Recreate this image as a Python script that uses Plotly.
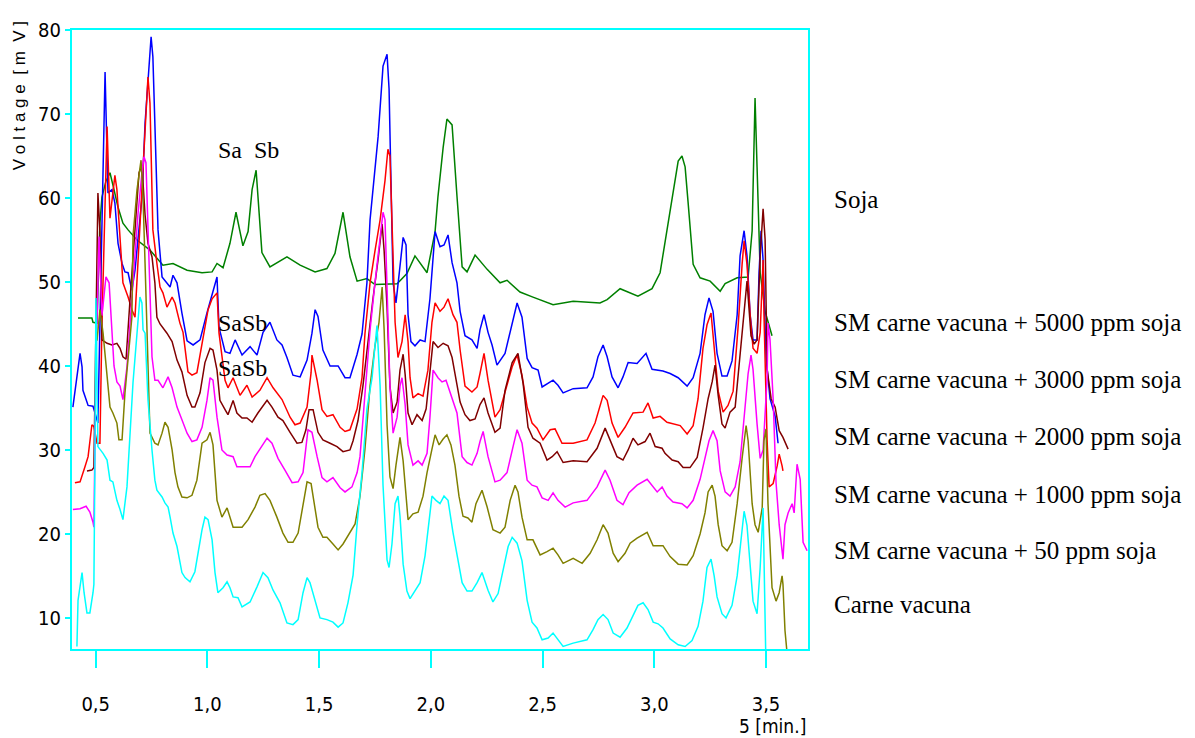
import plotly.graph_objects as go

# ---------------- data (time in min, signal in mV) ----------------
soja_t = [0.421,0.483,0.488,0.506,0.519,0.528,0.546,0.564,0.582,0.600,0.622,0.645,0.685,0.743,0.801,0.846,0.909,0.976,1.021,1.043,1.070,1.101,1.128,1.159,1.182,1.200,1.218,1.231,1.244,1.280,1.325,1.356,1.415,1.482,1.535,1.571,1.607,1.638,1.670,1.714,1.750,1.849,1.893,1.929,1.983,2.019,2.032,2.055,2.072,2.095,2.117,2.140,2.162,2.198,2.252,2.310,2.341,2.399,2.457,2.547,2.637,2.757,2.789,2.847,2.927,2.990,3.026,3.057,3.084,3.107,3.124,3.138,3.151,3.174,3.205,3.250,3.295,3.317,3.371,3.420,3.438,3.451,3.460,3.474,3.496,3.527]
soja_v = [45.7,45.7,45.2,45.1,57.0,60.1,62.0,63.0,61.0,58.9,57.0,56.2,55.0,53.8,52.0,52.2,51.4,51.1,51.2,52.2,51.7,54.6,58.3,54.3,56.0,61.0,63.3,58.0,53.5,51.8,52.5,53.0,52.0,51.2,51.6,53.4,58.3,53.0,50.1,50.4,49.7,49.8,51.0,53.1,51.1,56.0,60.2,66.0,69.4,68.7,60.2,51.8,51.2,53.2,51.5,49.9,50.2,48.8,48.2,47.3,47.7,47.5,47.9,49.2,48.3,49.2,51.1,56.1,60.6,64.4,65.0,63.7,59.6,52.1,50.5,50.1,48.9,49.8,50.5,50.6,56.1,71.9,63.7,51.1,46.5,43.6]

s5000_t = [0.398,0.416,0.430,0.439,0.443,0.466,0.488,0.510,0.524,0.542,0.555,0.573,0.586,0.600,0.618,0.631,0.645,0.662,0.676,0.707,0.721,0.730,0.748,0.756,0.770,0.779,0.797,0.819,0.833,0.846,0.864,0.886,0.909,0.936,0.967,0.998,1.025,1.043,1.052,1.079,1.101,1.124,1.155,1.191,1.222,1.249,1.280,1.311,1.334,1.356,1.383,1.415,1.446,1.468,1.482,1.495,1.517,1.549,1.585,1.616,1.638,1.670,1.692,1.714,1.728,1.741,1.764,1.786,1.804,1.813,1.822,1.831,1.844,1.862,1.876,1.889,1.898,1.911,1.929,1.952,1.974,1.996,2.019,2.041,2.059,2.077,2.095,2.117,2.131,2.153,2.184,2.207,2.220,2.238,2.256,2.274,2.296,2.332,2.368,2.386,2.408,2.431,2.453,2.480,2.498,2.525,2.547,2.569,2.592,2.637,2.699,2.726,2.748,2.771,2.789,2.811,2.838,2.860,2.883,2.923,2.963,2.990,3.039,3.071,3.107,3.147,3.174,3.205,3.227,3.245,3.263,3.281,3.303,3.326,3.348,3.371,3.384,3.402,3.415,3.429,3.442,3.460,3.469,3.478,3.487,3.500,3.518,3.541,3.554]
s5000_v = [35.1,38.7,41.5,39.9,37.1,35.3,35.2,33.2,50.0,75.0,60.6,61.0,59.4,54.6,52.2,51.2,51.1,49.0,51.4,60.0,68.9,72.0,79.2,76.8,64.2,56.2,50.6,49.9,49.4,50.8,49.9,46.3,43.0,42.5,43.1,46.3,49.0,50.6,44.6,41.7,41.5,43.1,41.3,42.3,41.3,44.0,45.2,43.1,42.5,41.0,38.9,38.7,40.7,43.9,46.7,45.9,41.9,40.0,40.0,38.6,38.6,41.4,43.8,49.9,57.4,61.2,67.3,75.7,77.1,73.0,60.2,49.9,47.5,51.8,55.3,54.4,46.1,42.9,42.4,43.1,42.9,48.0,56.0,54.2,54.4,55.6,52.3,49.9,46.5,43.6,43.1,42.1,44.3,46.1,44.0,42.5,40.1,41.5,45.5,47.5,45.8,40.9,39.8,39.5,37.5,38.0,38.3,37.7,36.8,37.3,37.4,38.7,41.1,42.5,41.1,38.7,37.4,38.7,40.4,40.3,41.5,39.6,39.4,39.1,38.6,37.6,38.6,41.5,46.1,48.1,46.5,41.5,38.8,38.8,40.6,46.1,53.1,56.1,53.1,46.1,43.1,43.1,51.1,56.1,52.6,41.1,36.1,34.0,30.8]

s3000_t = [0.407,0.430,0.452,0.466,0.483,0.492,0.506,0.519,0.528,0.551,0.564,0.586,0.595,0.609,0.622,0.645,0.662,0.676,0.698,0.712,0.725,0.734,0.743,0.756,0.774,0.788,0.801,0.819,0.842,0.855,0.877,0.891,0.913,0.931,0.953,0.980,1.003,1.021,1.043,1.052,1.079,1.092,1.115,1.146,1.177,1.200,1.235,1.267,1.294,1.334,1.370,1.392,1.415,1.446,1.464,1.468,1.491,1.513,1.535,1.562,1.594,1.616,1.638,1.670,1.692,1.705,1.728,1.750,1.773,1.795,1.808,1.817,1.831,1.840,1.853,1.871,1.885,1.898,1.907,1.920,1.943,1.965,1.987,2.005,2.019,2.041,2.059,2.077,2.099,2.117,2.131,2.153,2.184,2.207,2.220,2.238,2.256,2.287,2.310,2.341,2.364,2.386,2.408,2.431,2.453,2.475,2.502,2.534,2.556,2.587,2.637,2.699,2.735,2.771,2.789,2.811,2.838,2.869,2.905,2.950,2.972,2.995,3.026,3.057,3.084,3.116,3.147,3.174,3.196,3.218,3.236,3.254,3.272,3.286,3.308,3.330,3.353,3.375,3.393,3.402,3.415,3.429,3.442,3.460,3.474,3.487,3.491,3.505,3.514,3.532,3.550,3.559,3.572,3.576]
s3000_v = [26.1,26.2,28.0,29.2,33.0,32.8,30.8,30.8,45.0,68.5,57.6,62.7,61.0,55.4,49.9,48.2,46.7,45.8,56.2,64.2,69.6,74.4,71.3,56.2,52.2,49.4,48.7,47.0,48.2,47.5,45.1,44.0,39.3,38.9,39.2,43.1,46.7,48.0,48.7,43.9,38.3,37.4,38.6,36.5,37.7,36.3,37.1,38.6,37.4,36.0,33.9,33.0,33.2,35.1,39.2,41.3,38.3,34.8,34.0,34.2,32.7,32.2,32.4,34.9,38.6,43.8,49.9,53.7,57.4,62.1,65.8,65.0,54.2,45.2,41.0,42.9,46.1,42.9,38.6,36.2,36.7,36.4,39.5,45.2,47.5,46.5,47.0,48.0,46.1,45.2,41.9,37.6,36.9,37.5,39.1,41.5,38.3,33.9,34.8,37.9,39.9,41.3,38.9,35.1,33.2,32.6,31.2,32.4,32.5,30.8,30.8,31.2,33.2,36.5,35.9,33.2,31.5,32.7,34.4,34.5,35.6,33.8,34.0,33.3,33.1,32.9,31.9,32.9,36.1,42.1,44.9,46.3,41.1,37.0,34.5,35.3,37.0,44.6,52.1,54.9,52.1,46.1,42.1,41.5,44.0,52.6,46.1,31.1,25.6,26.0,28.1,29.5,28.1,27.5]

s2000_t = [0.461,0.483,0.492,0.501,0.510,0.519,0.528,0.551,0.573,0.595,0.609,0.622,0.636,0.654,0.676,0.694,0.707,0.721,0.734,0.752,0.765,0.774,0.788,0.819,0.842,0.864,0.886,0.909,0.931,0.944,0.967,0.989,1.012,1.025,1.043,1.056,1.079,1.092,1.115,1.132,1.155,1.177,1.200,1.226,1.267,1.289,1.316,1.338,1.370,1.401,1.423,1.441,1.455,1.473,1.495,1.517,1.549,1.580,1.607,1.638,1.652,1.674,1.696,1.719,1.741,1.764,1.782,1.791,1.804,1.817,1.831,1.849,1.862,1.876,1.885,1.898,1.916,1.938,1.961,1.979,1.996,2.010,2.032,2.055,2.077,2.095,2.108,2.131,2.153,2.175,2.198,2.220,2.238,2.256,2.287,2.310,2.332,2.364,2.390,2.413,2.435,2.457,2.489,2.520,2.543,2.565,2.592,2.637,2.699,2.744,2.780,2.802,2.833,2.860,2.883,2.905,2.927,2.959,2.981,3.004,3.035,3.048,3.080,3.107,3.129,3.160,3.192,3.218,3.241,3.259,3.272,3.286,3.303,3.317,3.339,3.362,3.384,3.402,3.415,3.433,3.447,3.460,3.474,3.487,3.496,3.505,3.523,3.541,3.559,3.576,3.599]
s2000_v = [27.5,27.6,27.9,45.0,60.6,56.0,43.1,42.7,42.5,42.7,42.1,41.1,40.8,48.0,57.0,63.0,63.9,58.0,54.6,53.0,49.9,45.8,45.0,43.9,42.9,40.7,39.3,36.5,35.1,35.1,36.8,40.4,42.1,41.9,39.5,35.9,34.8,34.2,35.9,34.4,33.8,33.8,33.3,34.4,35.9,35.1,33.9,33.5,32.1,30.8,30.9,32.4,34.8,34.8,32.1,31.2,30.8,30.4,29.8,30.0,31.1,33.5,37.6,43.3,48.0,52.7,56.9,53.7,47.0,37.6,34.4,35.7,39.5,41.4,39.0,34.4,33.0,34.2,33.5,34.9,39.5,42.9,42.2,42.7,42.4,41.0,39.1,35.7,34.2,33.5,33.7,35.4,36.2,34.4,32.1,32.6,37.1,40.4,41.5,37.9,32.7,31.4,30.8,28.8,29.2,29.8,28.5,28.7,28.6,30.2,32.6,31.2,29.2,28.8,30.0,31.4,30.6,31.0,32.0,30.4,30.2,29.6,28.8,28.6,27.9,27.9,29.1,32.6,36.1,38.1,40.1,36.5,33.1,32.6,34.5,35.1,41.1,46.1,50.1,43.6,42.6,43.1,53.1,58.7,55.1,39.6,36.1,35.1,32.3,31.5,30.1]

s1000_t = [0.398,0.430,0.457,0.474,0.488,0.492,0.501,0.515,0.528,0.546,0.560,0.573,0.582,0.595,0.609,0.622,0.640,0.667,0.689,0.707,0.716,0.725,0.734,0.743,0.752,0.765,0.779,0.801,0.824,0.842,0.864,0.886,0.909,0.931,0.953,0.976,0.998,1.012,1.025,1.043,1.065,1.088,1.115,1.132,1.159,1.191,1.213,1.244,1.267,1.289,1.316,1.347,1.379,1.406,1.428,1.450,1.468,1.491,1.513,1.535,1.562,1.594,1.616,1.647,1.670,1.683,1.705,1.728,1.750,1.773,1.786,1.795,1.804,1.817,1.831,1.849,1.862,1.871,1.885,1.898,1.920,1.943,1.961,1.983,1.996,2.010,2.032,2.050,2.068,2.095,2.117,2.140,2.162,2.184,2.207,2.220,2.234,2.256,2.287,2.310,2.341,2.368,2.386,2.408,2.431,2.453,2.475,2.498,2.525,2.547,2.569,2.601,2.637,2.699,2.744,2.780,2.802,2.833,2.860,2.887,2.923,2.968,2.990,3.013,3.035,3.057,3.084,3.124,3.147,3.174,3.205,3.227,3.245,3.263,3.281,3.295,3.317,3.339,3.362,3.384,3.406,3.420,3.433,3.442,3.460,3.474,3.487,3.505,3.509,3.518,3.532,3.545,3.559,3.576,3.585,3.599,3.617,3.626,3.639,3.653,3.666,3.684]
s1000_v = [22.9,23.0,23.3,22.6,21.4,20.8,40.0,55.4,46.0,50.6,49.9,44.3,40.0,38.1,37.6,36.0,39.9,50.0,58.0,63.0,64.9,64.2,56.2,48.2,41.1,38.3,38.3,37.4,38.7,37.4,35.1,33.6,32.0,31.0,31.2,32.7,35.9,38.6,38.3,33.9,30.0,29.4,29.2,28.0,28.0,28.0,29.2,30.4,31.4,30.8,29.0,27.6,26.1,26.2,27.3,32.4,32.1,29.2,26.7,26.2,26.7,25.5,25.0,25.6,27.3,29.2,36.2,44.3,49.9,55.5,58.3,57.4,49.9,37.6,32.0,33.9,37.6,38.6,35.4,30.6,28.2,28.7,28.2,29.6,33.9,39.5,38.6,38.1,38.3,36.2,34.4,29.2,28.5,28.2,29.6,31.0,32.2,29.2,26.2,26.4,27.3,30.4,32.4,30.8,26.4,25.8,25.6,24.3,24.0,24.9,24.0,23.2,23.7,24.0,25.6,27.6,26.4,24.0,23.5,24.9,25.8,26.5,25.8,25.0,25.6,24.5,23.8,23.6,23.1,24.0,26.5,29.0,31.1,32.3,31.1,27.5,25.0,24.5,25.6,28.6,35.1,39.1,41.3,39.6,33.1,29.0,30.0,38.6,45.1,43.1,36.1,26.1,21.1,17.0,21.1,22.5,23.6,22.5,28.3,26.5,19.0,18.0]

s50_t = [0.506,0.519,0.533,0.551,0.564,0.577,0.595,0.604,0.618,0.631,0.645,0.662,0.667,0.685,0.703,0.712,0.721,0.730,0.734,0.743,0.765,0.779,0.797,0.810,0.824,0.842,0.855,0.868,0.886,0.909,0.931,0.953,0.976,0.998,1.012,1.025,1.043,1.065,1.088,1.110,1.115,1.155,1.182,1.213,1.235,1.258,1.280,1.311,1.338,1.361,1.383,1.406,1.428,1.446,1.464,1.482,1.495,1.517,1.535,1.562,1.585,1.607,1.638,1.661,1.683,1.705,1.728,1.750,1.768,1.782,1.791,1.804,1.817,1.831,1.844,1.862,1.876,1.889,1.898,1.920,1.943,1.965,1.983,2.005,2.019,2.037,2.055,2.072,2.090,2.108,2.126,2.144,2.166,2.184,2.202,2.229,2.252,2.278,2.310,2.332,2.355,2.377,2.390,2.408,2.431,2.457,2.489,2.520,2.547,2.569,2.592,2.637,2.677,2.713,2.744,2.771,2.793,2.816,2.838,2.869,2.892,2.923,2.968,2.995,3.039,3.071,3.107,3.147,3.174,3.205,3.227,3.241,3.259,3.272,3.286,3.303,3.326,3.348,3.371,3.393,3.411,3.420,3.438,3.451,3.465,3.483,3.491,3.500,3.509,3.527,3.545,3.559,3.572,3.576,3.585,3.594]
s50_v = [43.0,46.7,43.9,38.3,35.1,34.4,33.2,31.2,31.2,36.8,40.7,45.8,55.4,61.0,64.5,60.0,52.2,44.3,39.9,32.0,30.8,30.6,32.0,33.3,32.7,30.0,27.3,25.6,24.4,24.3,24.6,26.4,30.8,31.2,32.1,30.6,24.0,22.0,23.1,21.3,20.8,20.8,21.7,23.2,24.6,24.8,24.0,22.0,20.1,19.0,19.0,20.1,23.2,26.2,26.0,23.2,20.8,19.6,19.6,18.8,18.1,18.8,20.2,21.2,24.5,30.1,37.6,42.4,45.2,49.4,44.3,33.0,26.8,25.4,28.2,31.5,28.7,24.5,21.7,22.4,22.6,24.5,27.3,30.1,31.8,30.6,31.3,31.8,30.6,28.2,24.5,22.1,21.9,21.4,23.6,25.2,23.2,20.5,20.1,20.8,24.0,25.8,25.0,22.0,19.3,19.3,17.5,17.9,18.3,17.5,16.5,17.1,16.5,17.7,19.3,21.1,20.1,17.7,16.7,17.7,18.9,19.5,20.2,18.6,18.6,17.3,16.4,16.3,17.4,20.0,22.5,25.0,25.8,24.5,21.1,18.6,18.0,19.0,23.6,29.0,32.9,31.1,23.6,21.1,20.2,23.1,31.1,32.5,23.6,13.6,12.0,13.0,15.0,14.0,8.5,5.9]

carne_t = [0.416,0.421,0.439,0.448,0.461,0.474,0.488,0.492,0.497,0.501,0.510,0.533,0.551,0.564,0.577,0.595,0.609,0.622,0.640,0.654,0.667,0.685,0.698,0.707,0.712,0.721,0.734,0.752,0.765,0.774,0.797,0.810,0.824,0.833,0.846,0.864,0.886,0.900,0.922,0.944,0.958,0.976,0.989,1.003,1.021,1.034,1.047,1.070,1.088,1.101,1.115,1.137,1.155,1.191,1.222,1.249,1.271,1.294,1.325,1.356,1.383,1.406,1.428,1.446,1.459,1.482,1.504,1.535,1.562,1.585,1.607,1.629,1.652,1.670,1.692,1.714,1.737,1.750,1.759,1.773,1.786,1.804,1.813,1.826,1.840,1.853,1.862,1.876,1.893,1.907,1.929,1.952,1.974,1.987,2.005,2.023,2.041,2.059,2.077,2.099,2.117,2.140,2.162,2.184,2.207,2.229,2.256,2.278,2.301,2.323,2.346,2.364,2.386,2.408,2.431,2.453,2.475,2.498,2.525,2.547,2.569,2.592,2.637,2.699,2.726,2.748,2.771,2.793,2.816,2.847,2.878,2.905,2.927,2.950,2.972,2.995,3.017,3.039,3.071,3.107,3.138,3.169,3.196,3.218,3.236,3.254,3.268,3.281,3.303,3.321,3.348,3.371,3.389,3.402,3.415,3.429,3.442,3.460,3.474,3.487,3.491,3.500]
carne_v = [6.6,12.1,15.4,13.0,10.6,10.6,13.0,14.0,30.0,48.1,30.4,29.6,28.8,26.4,26.2,24.0,22.9,21.7,25.6,32.0,38.0,43.9,48.2,47.5,44.3,43.9,36.0,30.0,26.4,25.2,24.4,23.7,23.2,22.0,20.1,18.5,15.4,14.8,14.3,15.5,17.7,20.5,22.0,21.7,19.3,15.4,13.0,13.6,14.3,13.6,12.5,12.4,11.3,11.9,13.7,15.4,14.8,13.3,11.8,9.4,9.2,9.8,13.0,14.8,14.2,12.1,10.0,9.8,9.5,8.9,9.4,11.8,15.1,21.2,27.3,34.9,38.6,42.4,44.8,37.6,25.8,16.9,16.0,18.8,23.6,24.5,22.1,16.4,13.2,12.3,13.2,14.2,17.4,20.7,24.5,24.0,23.6,24.5,24.0,20.2,17.4,14.2,13.2,13.2,14.2,15.4,13.3,11.9,12.9,15.7,18.5,19.6,18.9,16.8,12.1,9.5,8.8,7.4,7.6,8.2,7.4,6.6,7.0,7.4,8.6,9.8,10.4,9.8,8.2,7.7,8.8,10.3,11.5,11.8,11.0,9.5,9.3,8.8,7.5,6.8,6.6,7.3,9.0,12.0,16.0,17.0,15.0,12.5,10.5,10.0,11.5,15.0,19.5,22.7,21.0,16.0,12.0,10.5,16.0,23.1,16.0,4.0]

series_names = ["Soja",
                "SM carne vacuna + 5000 ppm soja",
                "SM carne vacuna + 3000 ppm soja",
                "SM carne vacuna + 2000 ppm soja",
                "SM carne vacuna + 1000 ppm soja",
                "SM carne vacuna + 50 ppm soja",
                "Carne vacuna"]
series_colors = ["#008000", "#0000FF", "#FF0000", "#800000", "#FF00FF", "#808000", "#00FFFF"]
series_t = [soja_t, s5000_t, s3000_t, s2000_t, s1000_t, s50_t, carne_t]
series_v = [soja_v, s5000_v, s3000_v, s2000_v, s1000_v, s50_v, carne_v]
label_y = [0.7254, 0.5267, 0.4346, 0.3425, 0.2504, 0.1599, 0.0711]  # paper-y of right labels

x_ticks = [0.5, 1.0, 1.5, 2.0, 2.5, 3.0, 3.5]
y_ticks = [10, 20, 30, 40, 50, 60, 70, 80]

SERIF = "Liberation Serif, Times New Roman, serif"
NARROW = "Liberation Sans Narrow, DejaVu Sans Condensed, Arial Narrow, sans-serif"
AXC = "#00FFFF"

fig = go.Figure()
for name, col, t, v in zip(series_names, series_colors, series_t, series_v):
    fig.add_trace(go.Scatter(x=t, y=v, mode="lines", name=name,
                             line=dict(color=col, width=1.5), showlegend=False))

ann = []
for name, yy in zip(series_names, label_y):
    ann.append(dict(text=name, x=1.0326, y=yy, xref="paper", yref="paper",
                    xanchor="left", yanchor="middle", showarrow=False,
                    font=dict(family=SERIF, size=25, color="black")))
for txt, yy in [("Sa  Sb", 0.806), ("SaSb", 0.5267), ("SaSb", 0.454)]:
    ann.append(dict(text=txt, x=0.1957, y=yy, xref="paper", yref="paper",
                    xanchor="left", yanchor="middle", showarrow=False,
                    font=dict(family=SERIF, size=24, color="black")))
ann.append(dict(text="V o l t a g e  [ m  V ]", x=-0.072, y=0.893, xref="paper", yref="paper",
                textangle=-90, xanchor="center", yanchor="middle", showarrow=False,
                font=dict(family="Liberation Sans, Arial, sans-serif", size=17, color="black")))
ann.append(dict(text="5 [min.]", x=1.0, y=-0.1244, xref="paper", yref="paper",
                xanchor="right", yanchor="middle", showarrow=False,
                font=dict(family=NARROW, size=19, color="black")))

fig.update_layout(
    width=1195, height=738,
    margin=dict(l=72, r=387, t=30, b=89),
    paper_bgcolor="white", plot_bgcolor="white",
    separators=",.",
    annotations=ann,
    xaxis=dict(range=[0.394, 3.688], tickvals=x_ticks, tickformat=".1f",
               ticks="outside", ticklen=17, tickwidth=2, tickcolor=AXC,
               ticklabelstandoff=19,
               showgrid=False, zeroline=False, showline=True, linecolor=AXC,
               linewidth=2, mirror=True,
               tickfont=dict(family=NARROW, size=20, color="black")),
    yaxis=dict(range=[6.3, 80.0], tickvals=y_ticks,
               ticks="outside", ticklen=5, tickwidth=2, tickcolor=AXC,
               showgrid=False, zeroline=False, showline=True, linecolor=AXC,
               linewidth=2, mirror=True,
               tickfont=dict(family=NARROW, size=20, color="black")),
)

fig.write_html("out.html")
